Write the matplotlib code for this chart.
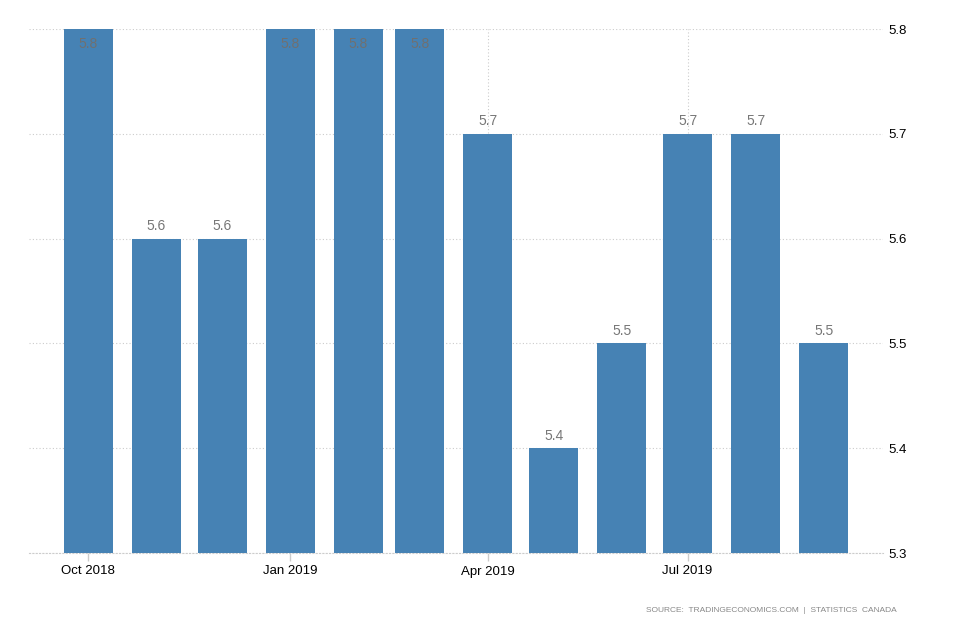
import pandas as pd
import matplotlib.pyplot as plt
import matplotlib.dates as mdates

plt.rcParams['font.family'] = ['Liberation Sans', 'DejaVu Sans']

months = ['2018-10', '2018-11', '2018-12', '2019-01', '2019-02', '2019-03',
          '2019-04', '2019-05', '2019-06', '2019-07', '2019-08', '2019-09']
values = [5.8, 5.6, 5.6, 5.8, 5.8, 5.8, 5.7, 5.4, 5.5, 5.7, 5.7, 5.5]
tick_months = ['2018-10', '2019-01', '2019-04', '2019-07']
tick_labels = ['Oct 2018', 'Jan 2019', 'Apr 2019', 'Jul 2019']
yticks = [5.3, 5.4, 5.5, 5.6, 5.7, 5.8]

dates = pd.to_datetime(months)
ymin, ymax = 5.3, 5.8

fig = plt.figure(figsize=(9.54, 6.36), dpi=100)
ax = fig.add_axes([29 / 954, 1 - 553 / 636, (883 - 29) / 954, (553 - 29) / 636])

x = mdates.date2num(dates)
ax.bar(x, [v - ymin for v in values], bottom=ymin, width=22.4,
       color='#4682B4', zorder=3)

for xi, v in zip(x, values):
    if v >= ymax:
        ax.annotate(f'{v:.1f}', (xi, ymax), xytext=(0, -11), textcoords='offset points',
                    ha='center', va='center', color='#707070', fontsize=10, zorder=4)
    else:
        ax.annotate(f'{v:.1f}', (xi, v), xytext=(0, 9), textcoords='offset points',
                    ha='center', va='center', color='#777777', fontsize=10, zorder=4)

ax.set_xlim(mdates.date2num(pd.Timestamp('2018-09-04')),
            mdates.date2num(pd.Timestamp('2019-09-28')))
ax.set_ylim(ymin, ymax)

ax.set_xticks(mdates.date2num(pd.to_datetime(tick_months)))
ax.set_xticklabels(tick_labels, fontsize=9.5)
ax.set_yticks(yticks)
ax.set_yticklabels([f'{t:.1f}' for t in yticks], fontsize=9.5)
ax.yaxis.tick_right()
ax.tick_params(axis='y', length=0, pad=4)
ax.tick_params(axis='x', length=6, width=1, color='#cccccc', pad=3)

ax.grid(True, color='#cccccc', linestyle=(0, (1, 2)), linewidth=0.8, zorder=0)
for s in ax.spines.values():
    s.set_visible(False)
ax.spines['bottom'].set_visible(True)
ax.spines['bottom'].set_color('#cccccc')
ax.spines['bottom'].set_linestyle((0, (1, 2)))
ax.spines['bottom'].set_linewidth(0.8)
ax.spines['bottom'].set_zorder(2)

fig.text(897 / 954, 1 - 611 / 636, 'SOURCE:  TRADINGECONOMICS.COM  |  STATISTICS  CANADA',
         ha='right', va='center', fontsize=6, color='#888888')

fig.savefig('out.png', dpi=100)
